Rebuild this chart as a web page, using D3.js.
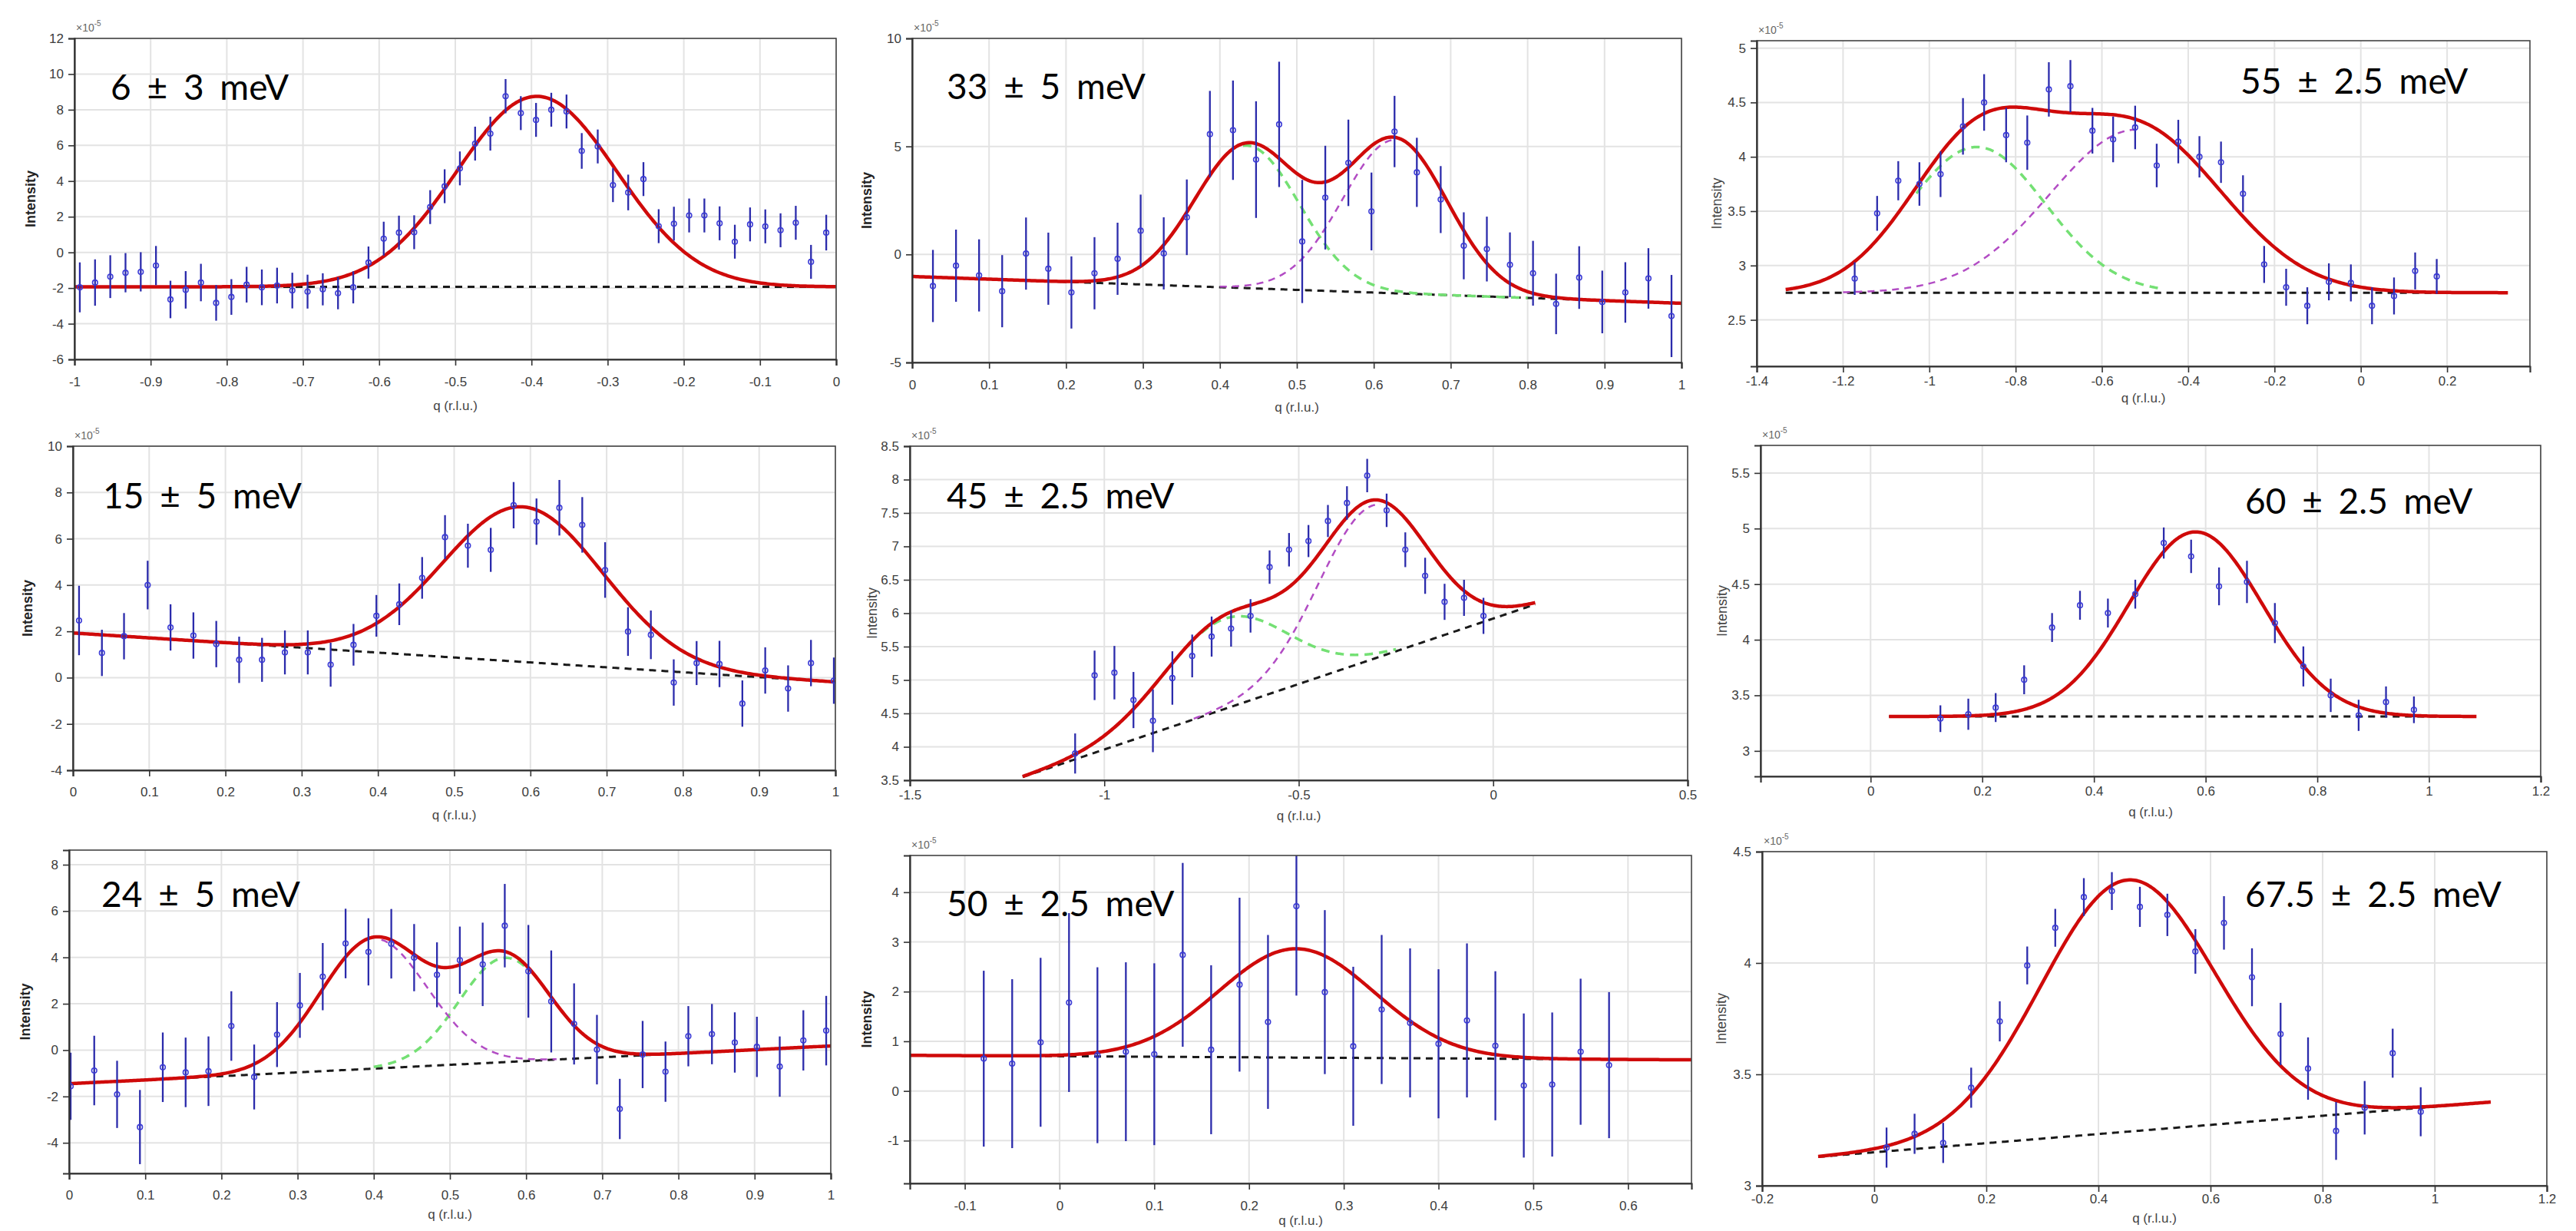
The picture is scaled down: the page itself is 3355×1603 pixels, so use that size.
<!DOCTYPE html>
<html>
<head>
<meta charset="utf-8">
<script src="https://d3js.org/d3.v7.min.js"></script>
<style>
  body { margin: 0; background: #fff; }
  svg text { font-family: "Liberation Sans", Arial, sans-serif; }
</style>
</head>
<body>
<svg id="fig" width="3355" height="1603"></svg>
<script>
// ---------------- DATA (intensity in units of 1e-5) ----------------

// 6 +- 3 meV
const q6 = [-0.993,-0.973,-0.953,-0.933,-0.913,-0.893,-0.874,-0.854,-0.834,-0.814,-0.794,-0.774,-0.754,-0.734,-0.714,-0.694,-0.674,-0.654,-0.634,-0.614,-0.594,-0.574,-0.554,-0.533,-0.514,-0.494,-0.474,-0.454,-0.434,-0.414,-0.394,-0.374,-0.354,-0.334,-0.313,-0.293,-0.273,-0.253,-0.233,-0.213,-0.193,-0.173,-0.153,-0.133,-0.113,-0.093,-0.073,-0.053,-0.033,-0.013];
const i6 = [-1.96,-1.69,-1.36,-1.14,-1.09,-0.74,-2.64,-2.10,-1.69,-2.83,-2.50,-1.81,-1.96,-1.86,-2.14,-2.20,-2.07,-2.29,-1.96,-0.57,0.77,1.11,1.13,2.54,3.71,4.71,6.10,6.66,8.76,7.81,7.43,8.00,7.90,5.69,5.94,3.77,3.36,4.11,1.47,1.61,2.07,2.07,1.63,0.60,1.57,1.46,1.24,1.66,-0.53,1.11];
const e6 = [1.4,1.3,1.2,1.1,1.1,1.1,1.05,1.05,1.05,1.0,1.0,1.0,1.0,1.0,1.0,0.95,0.9,0.9,0.9,0.9,0.95,0.95,0.95,0.95,0.95,0.95,0.95,0.95,0.96,0.95,0.95,0.95,0.95,1.0,0.95,0.95,1.0,0.95,0.95,0.95,0.95,0.95,0.95,0.95,0.95,0.95,0.95,0.95,0.95,1.0];
const bg6 = [-1.93, 0];                 // background: a + b*q
const pk6 = [[-0.393, 10.68, 0.105]];   // [centre, amplitude, sigma]
const span6 = [-1, 0];
const comp6 = [];
const xd6 = [-1, 0], yd6 = [-6, 12];
const xt6 = [-1,-0.9,-0.8,-0.7,-0.6,-0.5,-0.4,-0.3,-0.2,-0.1,0];
const yt6 = [-6,-4,-2,0,2,4,6,8,10,12];

// 33 +- 5 meV
const q33 = [0.027,0.057,0.087,0.117,0.148,0.177,0.207,0.237,0.267,0.297,0.327,0.357,0.387,0.417,0.447,0.477,0.507,0.537,0.567,0.597,0.627,0.656,0.687,0.717,0.747,0.777,0.807,0.837,0.867,0.897,0.927,0.957,0.987];
const i33 = [-1.46,-0.52,-0.97,-1.70,0.04,-0.66,-1.76,-0.87,-0.20,1.10,0.05,1.72,5.57,5.75,4.39,6.02,0.60,2.63,4.24,1.99,5.69,3.80,2.54,0.40,0.25,-0.48,-0.87,-2.29,-1.07,-2.20,-1.76,-1.11,-2.85];
const e33 = [1.67,1.67,1.67,1.67,1.67,1.67,1.67,1.67,1.67,1.67,1.67,1.75,2.0,2.3,2.7,2.9,2.85,2.4,2.0,1.8,1.65,1.6,1.55,1.55,1.5,1.5,1.5,1.4,1.45,1.45,1.4,1.4,1.9];
const bg33 = [-1.02, -1.24];
const pk33 = [[0.435, 6.6, 0.068], [0.628, 7.1, 0.068]];
const span33 = [0, 1];
const comp33 = [[0.43, 0.80], [0.40, 0.63]];
const xd33 = [0, 1], yd33 = [-5, 10];
const xt33 = [0,0.1,0.2,0.3,0.4,0.5,0.6,0.7,0.8,0.9,1];
const yt33 = [-5,0,5,10];

// 55 +- 2.5 meV
const q55 = [-1.173,-1.121,-1.072,-1.023,-0.974,-0.922,-0.873,-0.822,-0.773,-0.723,-0.673,-0.622,-0.574,-0.523,-0.473,-0.423,-0.374,-0.324,-0.273,-0.224,-0.173,-0.124,-0.074,-0.023,0.026,0.077,0.126,0.176];
const i55 = [2.88,3.48,3.78,3.75,3.84,4.28,4.50,4.20,4.13,4.62,4.65,4.24,4.16,4.27,3.92,4.14,4.00,3.95,3.66,3.01,2.80,2.63,2.85,2.84,2.63,2.72,2.95,2.90];
const e55 = [0.15,0.16,0.18,0.2,0.21,0.26,0.26,0.25,0.25,0.25,0.24,0.21,0.21,0.2,0.2,0.2,0.19,0.19,0.17,0.17,0.17,0.17,0.17,0.17,0.17,0.17,0.17,0.16];
const bg55 = [2.75, 0];
const pk55 = [[-0.89, 1.34, 0.16], [-0.52, 1.5, 0.2]];
const span55 = [-1.333, 0.341];
const comp55 = [[-1.03, -0.46], [-1.2, -0.52]];
const xd55 = [-1.4, 0.392], yd55 = [2.073, 5.068];
const xt55 = [-1.4,-1.2,-1,-0.8,-0.6,-0.4,-0.2,0,0.2];
const yt55 = [2.5,3,3.5,4,4.5,5];

// 15 +- 5 meV
const q15 = [0.008,0.038,0.067,0.098,0.128,0.158,0.188,0.218,0.248,0.278,0.308,0.338,0.368,0.398,0.428,0.458,0.488,0.518,0.548,0.578,0.608,0.638,0.668,0.698,0.728,0.758,0.788,0.818,0.848,0.878,0.908,0.938,0.968,0.998];
const i15 = [2.47,1.07,1.79,4.00,2.17,1.82,1.45,0.77,0.77,1.09,1.09,0.56,1.42,2.67,3.17,4.31,6.07,5.70,5.52,7.45,6.74,7.34,6.60,4.65,1.99,1.85,-0.21,0.63,0.59,-1.12,0.31,-0.47,0.63,-0.13];
const e15 = [1.5,1.0,1.0,1.05,1.0,1.0,1.0,1.0,0.95,0.95,0.95,0.95,0.9,0.9,0.9,0.9,0.95,0.95,0.95,1.0,1.0,1.2,1.2,1.2,1.05,1.05,1.0,0.95,1.0,1.0,1.0,1.0,1.0,1.0];
const bg15 = [1.93, -2.12];
const pk15 = [[0.59, 6.7, 0.105]];
const span15 = [0, 1];
const comp15 = [];
const xd15 = [0, 1], yd15 = [-4, 10];
const xt15 = [0,0.1,0.2,0.3,0.4,0.5,0.6,0.7,0.8,0.9,1];
const yt15 = [-4,-2,0,2,4,6,8,10];

// 45 +- 2.5 meV
const q45 = [-1.075,-1.025,-0.974,-0.925,-0.875,-0.825,-0.774,-0.724,-0.674,-0.624,-0.575,-0.525,-0.475,-0.425,-0.376,-0.324,-0.274,-0.226,-0.175,-0.125,-0.075,-0.025];
const i45 = [3.90,5.07,5.11,4.70,4.39,5.03,5.36,5.65,5.77,5.96,6.69,6.95,7.08,7.38,7.65,8.06,7.54,6.95,6.56,6.17,6.23,5.96];
const e45 = [0.3,0.37,0.4,0.42,0.47,0.4,0.32,0.3,0.27,0.25,0.25,0.25,0.24,0.24,0.25,0.25,0.25,0.26,0.27,0.27,0.27,0.27];
const bg45 = [5.92, 1.96];
const pk45 = [[-0.69, 1.35, 0.16], [-0.31, 2.3, 0.14]];
const span45 = [-1.21, 0.108];
const comp45 = [[-0.75, -0.25], [-0.77, -0.29]];
const xd45 = [-1.5, 0.5], yd45 = [3.5, 8.5];
const xt45 = [-1.5,-1,-0.5,0,0.5];
const yt45 = [3.5,4,4.5,5,5.5,6,6.5,7,7.5,8,8.5];

// 60 +- 2.5 meV
const q60 = [0.125,0.175,0.224,0.275,0.325,0.375,0.425,0.474,0.525,0.574,0.624,0.674,0.724,0.775,0.824,0.874,0.923,0.973];
const i60 = [3.29,3.33,3.39,3.64,4.11,4.31,4.24,4.41,4.87,4.75,4.48,4.52,4.15,3.76,3.50,3.32,3.44,3.37];
const e60 = [0.12,0.14,0.13,0.13,0.13,0.13,0.13,0.13,0.14,0.15,0.17,0.19,0.18,0.18,0.15,0.14,0.14,0.12];
const bg60 = [3.31, 0];
const pk60 = [[0.582, 1.66, 0.12]];
const span60 = [0.033, 1.085];
const comp60 = [];
const xd60 = [-0.197, 1.2], yd60 = [2.771, 5.748];
const xt60 = [0,0.2,0.4,0.6,0.8,1,1.2];
const yt60 = [3,3.5,4,4.5,5,5.5];

// 24 +- 5 meV
const q24 = [0.002,0.033,0.063,0.093,0.123,0.153,0.183,0.213,0.243,0.273,0.303,0.333,0.363,0.393,0.423,0.453,0.483,0.513,0.543,0.572,0.603,0.633,0.663,0.693,0.723,0.753,0.783,0.813,0.844,0.874,0.903,0.933,0.964,0.994];
const i24 = [-1.56,-0.88,-1.91,-3.32,-0.74,-0.96,-0.91,1.04,-1.16,0.67,1.93,3.17,4.60,4.24,4.59,3.99,3.25,3.88,3.70,5.37,3.40,2.10,1.13,0.02,-2.54,-0.19,-0.93,0.60,0.69,0.33,0.14,-0.71,0.42,0.84];
const e24 = [1.45,1.5,1.45,1.6,1.5,1.5,1.5,1.5,1.4,1.4,1.4,1.45,1.5,1.45,1.5,1.45,1.4,1.45,1.8,1.8,2.0,2.2,1.75,1.5,1.3,1.45,1.3,1.3,1.3,1.3,1.3,1.3,1.3,1.5];
const bg24 = [-1.45, 1.63];
const pk24 = [[0.572, 4.5, 0.06], [0.40, 5.6, 0.07]];
const span24 = [0, 1];
const comp24 = [[0.40, 0.60], [0.41, 0.64]];
const xd24 = [0, 1], yd24 = [-5.32, 8.63];
const xt24 = [0,0.1,0.2,0.3,0.4,0.5,0.6,0.7,0.8,0.9,1];
const yt24 = [-4,-2,0,2,4,6,8];

// 50 +- 2.5 meV
const q50 = [-0.08,-0.05,-0.02,0.01,0.04,0.07,0.10,0.13,0.16,0.19,0.22,0.25,0.28,0.31,0.34,0.37,0.40,0.43,0.46,0.49,0.52,0.55,0.58];
const i50 = [0.65,0.55,0.98,1.78,0.72,0.79,0.74,2.74,0.83,2.14,1.39,3.72,1.99,0.90,1.64,1.37,0.95,1.42,0.91,0.11,0.13,0.79,0.52];
const e50 = [1.77,1.7,1.7,1.8,1.77,1.8,1.83,1.85,1.7,1.75,1.75,1.8,1.65,1.6,1.5,1.5,1.5,1.55,1.5,1.45,1.45,1.47,1.47];
const bg50 = [0.70, -0.11];
const pk50 = [[0.25, 2.19, 0.082]];
const span50 = [-0.158, 0.667];
const comp50 = [];
const xd50 = [-0.158, 0.667], yd50 = [-1.86, 4.74];
const xt50 = [-0.1,0,0.1,0.2,0.3,0.4,0.5,0.6];
const yt50 = [-1,0,1,2,3,4];

// 67.5 +- 2.5 meV
const q675 = [0.022,0.072,0.123,0.173,0.224,0.273,0.323,0.374,0.424,0.474,0.523,0.573,0.624,0.674,0.725,0.774,0.824,0.875,0.925,0.975];
const i675 = [3.171,3.233,3.192,3.44,3.738,3.989,4.158,4.296,4.323,4.252,4.216,4.052,4.18,3.936,3.681,3.526,3.246,3.35,3.595,3.332];
const e675 = [0.09,0.09,0.09,0.09,0.09,0.085,0.085,0.085,0.085,0.09,0.095,0.1,0.12,0.13,0.14,0.14,0.13,0.12,0.11,0.11];
const bg675 = [3.15, 0.205];
const pk675 = [[0.452, 1.13, 0.155]];
const span675 = [-0.1, 1.1];
const comp675 = [];
const xd675 = [-0.2, 1.2], yd675 = [3, 4.5];
const xt675 = [-0.2,0,0.2,0.4,0.6,0.8,1,1.2];
const yt675 = [3,3.5,4,4.5];

const titles = ["6 ± 3 meV", "33 ± 5 meV", "55 ± 2.5 meV", "15 ± 5 meV", "45 ± 2.5 meV",
                "60 ± 2.5 meV", "24 ± 5 meV", "50 ± 2.5 meV", "67.5 ± 2.5 meV"];

// ---------------- LAYOUT ----------------
// plot box, tick label / x label offsets, y label offset, bold y label, title anchor, exponent note
const layout = [
  { x: 97,   y: 50,   w: 992,  h: 418, tdy: 29, ldy: 60, ydx: 51, bold: true,  tx: 144,  ty: 130,  exp: true },
  { x: 1188, y: 50,   w: 1002, h: 422, tdy: 29, ldy: 58, ydx: 53, bold: true,  tx: 1233, ty: 129,  exp: true },
  { x: 2288, y: 53,   w: 1007, h: 424, tdy: 19, ldy: 41, ydx: 46, bold: false, tx: 2918, ty: 122,  exp: true },
  { x: 95,   y: 581,  w: 993,  h: 422, tdy: 28, ldy: 58, ydx: 53, bold: true,  tx: 134,  ty: 662,  exp: true },
  { x: 1185, y: 581,  w: 1013, h: 435, tdy: 19, ldy: 46, ydx: 43, bold: false, tx: 1233, ty: 662,  exp: true },
  { x: 2293, y: 580,  w: 1016, h: 431, tdy: 19, ldy: 46, ydx: 44, bold: false, tx: 2924, ty: 669,  exp: true },
  { x: 90,   y: 1107, w: 992,  h: 421, tdy: 28, ldy: 53, ydx: 51, bold: true,  tx: 132,  ty: 1181, exp: false },
  { x: 1185, y: 1114, w: 1018, h: 427, tdy: 29, ldy: 48, ydx: 50, bold: true,  tx: 1233, ty: 1193, exp: true },
  { x: 2295, y: 1109, w: 1022, h: 435, tdy: 17, ldy: 42, ydx: 47, bold: false, tx: 2924, ty: 1181, exp: true }
];

const panels = [
  { q: q6,   v: i6,   e: e6,   bg: bg6,   pk: pk6,   span: span6,   comp: comp6,   xd: xd6,   yd: yd6,   xt: xt6,   yt: yt6 },
  { q: q33,  v: i33,  e: e33,  bg: bg33,  pk: pk33,  span: span33,  comp: comp33,  xd: xd33,  yd: yd33,  xt: xt33,  yt: yt33 },
  { q: q55,  v: i55,  e: e55,  bg: bg55,  pk: pk55,  span: span55,  comp: comp55,  xd: xd55,  yd: yd55,  xt: xt55,  yt: yt55 },
  { q: q15,  v: i15,  e: e15,  bg: bg15,  pk: pk15,  span: span15,  comp: comp15,  xd: xd15,  yd: yd15,  xt: xt15,  yt: yt15 },
  { q: q45,  v: i45,  e: e45,  bg: bg45,  pk: pk45,  span: span45,  comp: comp45,  xd: xd45,  yd: yd45,  xt: xt45,  yt: yt45 },
  { q: q60,  v: i60,  e: e60,  bg: bg60,  pk: pk60,  span: span60,  comp: comp60,  xd: xd60,  yd: yd60,  xt: xt60,  yt: yt60 },
  { q: q24,  v: i24,  e: e24,  bg: bg24,  pk: pk24,  span: span24,  comp: comp24,  xd: xd24,  yd: yd24,  xt: xt24,  yt: yt24 },
  { q: q50,  v: i50,  e: e50,  bg: bg50,  pk: pk50,  span: span50,  comp: comp50,  xd: xd50,  yd: yd50,  xt: xt50,  yt: yt50 },
  { q: q675, v: i675, e: e675, bg: bg675, pk: pk675, span: span675, comp: comp675, xd: xd675, yd: yd675, xt: xt675, yt: yt675 }
];

const compColors = ["#74e074", "#b24cc4"];   // green, magenta
const fmt = d => String(Math.round(d * 100) / 100);

// fit model: linear background + gaussians
const bgAt = (bg, q) => bg[0] + bg[1] * q;
const gauss = (p, q) => p[1] * Math.exp(-((q - p[0]) ** 2) / (2 * p[2] * p[2]));
const sample = (lo, hi, n) => d3.range(n + 1).map(k => lo + (hi - lo) * k / n);

const svg = d3.select("#fig");

panels.forEach((p, i) => {
  const L = layout[i];
  const g = svg.append("g").attr("transform", "translate(" + L.x + "," + L.y + ")");

  const x = d3.scaleLinear().domain(p.xd).range([0, L.w]);
  const y = d3.scaleLinear().domain(p.yd).range([L.h, 0]);

  // grid
  g.append("g").selectAll("line").data(p.xt).join("line")
    .attr("x1", d => x(d)).attr("x2", d => x(d))
    .attr("y1", 0).attr("y2", L.h)
    .attr("stroke", "#e3e3e3").attr("stroke-width", 2);
  g.append("g").selectAll("line").data(p.yt).join("line")
    .attr("x1", 0).attr("x2", L.w)
    .attr("y1", d => y(d)).attr("y2", d => y(d))
    .attr("stroke", "#e3e3e3").attr("stroke-width", 2);

  // clip to plot box
  g.append("clipPath").attr("id", "clip" + i)
    .append("rect").attr("width", L.w).attr("height", L.h);
  const plot = g.append("g").attr("clip-path", "url(#clip" + i + ")");

  const line = d3.line().x(d => x(d[0])).y(d => y(d[1]));

  // background (dashed black)
  const qs = sample(p.span[0], p.span[1], 400);
  plot.append("path")
    .attr("d", line(qs.map(q => [q, bgAt(p.bg, q)])))
    .attr("fill", "none").attr("stroke", "#1a1a1a")
    .attr("stroke-width", 3).attr("stroke-dasharray", "9,7");

  // individual components (dashed)
  p.comp.forEach((s, k) => {
    const cq = sample(s[0], s[1], 200);
    plot.append("path")
      .attr("d", line(cq.map(q => [q, bgAt(p.bg, q) + gauss(p.pk[k], q)])))
      .attr("fill", "none").attr("stroke", compColors[k])
      .attr("stroke-width", k === 0 ? 3.5 : 2.5)
      .attr("stroke-dasharray", k === 0 ? "11,8" : "9,7");
  });

  // total fit (red)
  plot.append("path")
    .attr("d", line(qs.map(q => [q, bgAt(p.bg, q) + d3.sum(p.pk, pk => gauss(pk, q))])))
    .attr("fill", "none").attr("stroke", "#cf0a0a")
    .attr("stroke-width", 4.5).attr("stroke-linejoin", "round");

  // error bars + markers
  const pts = p.q.map((q, k) => ({ q: q, v: p.v[k], e: p.e[k] }));
  plot.append("g").selectAll("line").data(pts).join("line")
    .attr("x1", d => x(d.q)).attr("x2", d => x(d.q))
    .attr("y1", d => y(d.v - d.e)).attr("y2", d => y(d.v + d.e))
    .attr("stroke", "#2b2bab").attr("stroke-width", 2.3);
  plot.append("g").selectAll("circle").data(pts).join("circle")
    .attr("cx", d => x(d.q)).attr("cy", d => y(d.v)).attr("r", 3.3)
    .attr("fill", "none").attr("stroke", "#3a3ad6").attr("stroke-width", 1.6);

  // box
  g.append("rect").attr("width", L.w).attr("height", L.h)
    .attr("fill", "none").attr("stroke", "#444").attr("stroke-width", 1.6);

  // axes
  const xAxis = d3.axisBottom(x).tickValues(p.xt).tickFormat(fmt)
    .tickSize(8).tickPadding(L.tdy - 14);
  const yAxis = d3.axisLeft(y).tickValues(p.yt).tickFormat(fmt)
    .tickSize(8).tickPadding(6);

  const ax = g.append("g").attr("transform", "translate(0," + L.h + ")").call(xAxis);
  const ay = g.append("g").call(yAxis);
  [ax, ay].forEach(a => {
    a.select(".domain").attr("stroke", "#333").attr("stroke-width", 2.2);
    a.selectAll(".tick line").attr("stroke", "#333").attr("stroke-width", 1.6);
    a.selectAll(".tick text").attr("fill", "#3c3c3c")
      .style("font-size", "17px").style("font-family", "'Liberation Sans', Arial, sans-serif");
  });

  // axis labels
  g.append("text")
    .attr("transform", "translate(" + (-L.ydx) + "," + (L.h / 2) + ") rotate(-90)")
    .attr("text-anchor", "middle")
    .style("font-size", "18px").style("font-weight", L.bold ? "bold" : "normal")
    .attr("fill", L.bold ? "#222" : "#444")
    .text("Intensity");
  g.append("text")
    .attr("x", L.w / 2).attr("y", L.h + L.ldy).attr("dy", "0.35em")
    .attr("text-anchor", "middle")
    .style("font-size", "17px").attr("fill", "#444")
    .text("q (r.l.u.)");

  if (L.exp) {
    const t = g.append("text").attr("x", 2).attr("y", -9)
      .style("font-size", "14px").attr("fill", "#666");
    t.append("tspan").text("×10");
    t.append("tspan").attr("dy", -7).style("font-size", "10px").text("-5");
  }

  // energy title
  svg.append("text")
    .attr("x", L.tx).attr("y", L.ty)
    .style("font-family", "Lato, 'Open Sans', sans-serif")
    .style("font-size", "46px")
    .style("word-spacing", "9px")
    .attr("fill", "#000")
    .text(titles[i]);
});
</script>
</body>
</html>
